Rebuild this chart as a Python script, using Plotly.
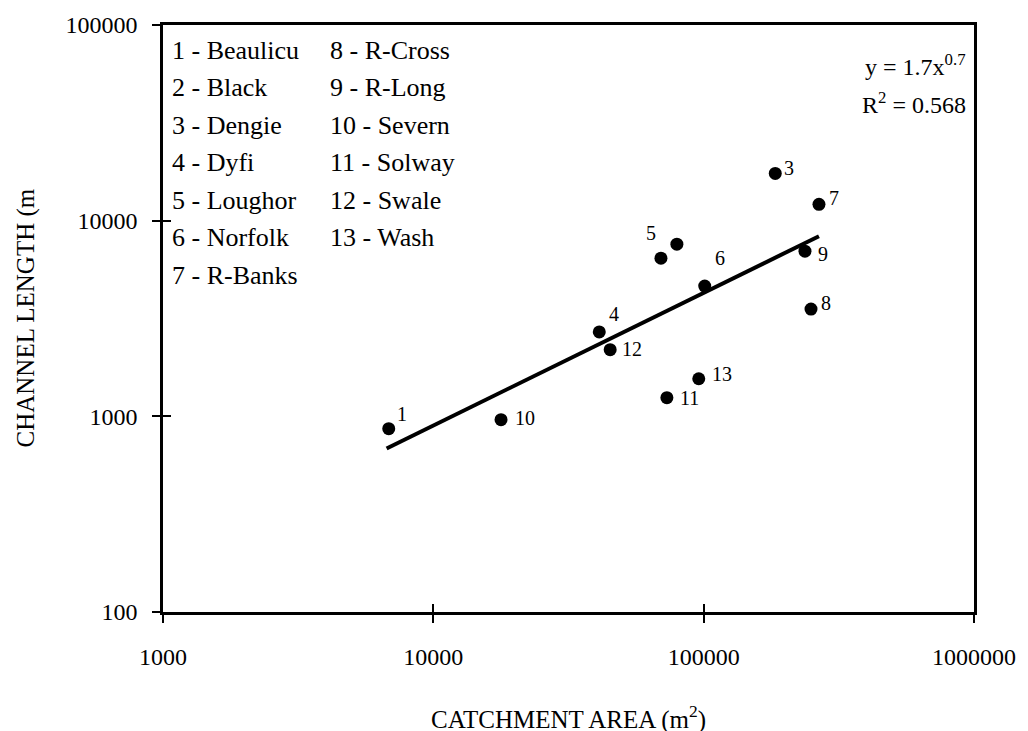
import math
import plotly.graph_objects as go

# ---- data ----
site_ids = [1, 2, 3, 4, 5, 6, 7, 8, 9, 10, 11, 12, 13]
site_names = ["Beaulicu", "Black", "Dengie", "Dyfi", "Loughor", "Norfolk", "R-Banks",
              "R-Cross", "R-Long", "Severn", "Solway", "Swale", "Wash"]
catchment_area = [6840, 79600, 184000, 41100, 69500, 100900, 267000,
                  249500, 237000, 17800, 73100, 45100, 95900]
channel_length = [865, 7580, 17430, 2700, 6430, 4630, 12120,
                  3535, 6985, 962, 1245, 2190, 1556]
point_labels = ["1", "", "3", "4", "5", "6", "7", "8", "9", "10", "11", "12", "13"]

trend_x = [6716, 267000]
trend_y = [685, 8330]

x_tickvals = [1000, 10000, 100000, 1000000]
x_ticktext = ["1000", "10000", "100000", "1000000"]
y_tickvals = [100, 1000, 10000, 100000]
y_ticktext = ["100", "1000", "10000", "100000"]

equation_text = "y = 1.7x<sup>0.7</sup>"
r2_text = "R<sup>2</sup> = 0.568"

# ---- styling ----
FONT = "Liberation Serif"
label_offsets = [(13, 15), (0, 0), (14, 5), (15, 18), (-10, 25), (15, 28), (15, 6),
                 (15, 6), (18, -3), (24, 2), (23, 0), (22, 1), (23, 5)]

fig = go.Figure()

fig.add_trace(go.Scatter(x=trend_x, y=trend_y, mode="lines",
                         line=dict(color="black", width=4), showlegend=False,
                         hoverinfo="skip"))
fig.add_trace(go.Scatter(x=catchment_area, y=channel_length, mode="markers",
                         marker=dict(color="black", size=13), showlegend=False))
# invisible trace on overlay axes to draw the inward half of the ticks
fig.add_trace(go.Scatter(x=[catchment_area[0]], y=[channel_length[0]], xaxis="x2", yaxis="y2",
                         mode="markers", marker=dict(opacity=0), showlegend=False,
                         hoverinfo="skip"))

annotations = []
for xv, yv, lab, (dx, dy) in zip(catchment_area, channel_length, point_labels, label_offsets):
    if not lab:
        continue
    annotations.append(dict(x=math.log10(xv), y=math.log10(yv), xref="x", yref="y",
                            text=lab, showarrow=False, xshift=dx, yshift=dy,
                            font=dict(family=FONT, size=20, color="black")))

# legend-like list of site names (two columns)
row_gap = 37.5
for i, (sid, name) in enumerate(zip(site_ids, site_names)):
    col = 0 if i < 7 else 1
    row = i if i < 7 else i - 7
    annotations.append(dict(x=0, y=1, xref="paper", yref="paper",
                            xanchor="left", yanchor="middle",
                            xshift=7 + col * 158, yshift=-(25 + row * row_gap),
                            text=f"{sid} - {name}", showarrow=False,
                            font=dict(family=FONT, size=26, color="black")))

annotations.append(dict(x=1, y=1, xref="paper", yref="paper", xanchor="right", yanchor="middle",
                        xshift=-6, yshift=-40, text=equation_text, showarrow=False,
                        font=dict(family=FONT, size=24, color="black")))
annotations.append(dict(x=1, y=1, xref="paper", yref="paper", xanchor="right", yanchor="middle",
                        xshift=-6, yshift=-78, text=r2_text, showarrow=False,
                        font=dict(family=FONT, size=24, color="black")))

# axis titles
annotations.append(dict(x=0.5, y=0, xref="paper", yref="paper", xanchor="center", yanchor="middle",
                        yshift=-105, text="CATCHMENT AREA (m<sup>2</sup>)", showarrow=False,
                        font=dict(family=FONT, size=25, color="black")))
annotations.append(dict(x=0, y=0.5, xref="paper", yref="paper", xanchor="center", yanchor="middle",
                        xshift=-138, text="CHANNEL LENGTH (m", textangle=-90, showarrow=False,
                        font=dict(family=FONT, size=25, color="black")))

axis_common = dict(type="log", showgrid=False, zeroline=False, showline=True,
                   linecolor="black", linewidth=2.5, mirror=True,
                   tickcolor="black", tickwidth=1.5, ticklen=8, ticks="outside",
                   tickfont=dict(family=FONT, size=24, color="black"))

fig.update_layout(
    width=1028, height=731,
    margin=dict(l=163, r=49, t=23, b=119),
    paper_bgcolor="white", plot_bgcolor="white",
    xaxis=dict(range=[3, 6], tickvals=x_tickvals, ticktext=x_ticktext,
               ticklabelstandoff=13, **axis_common),
    yaxis=dict(range=[2, 5], tickvals=y_tickvals, ticktext=y_ticktext,
               ticklabelstandoff=10, **axis_common),
    xaxis2=dict(type="log", range=[3, 6], overlaying="x", side="bottom", anchor="y2",
                showgrid=False, zeroline=False, showline=False, tickvals=x_tickvals,
                showticklabels=False, ticks="inside", ticklen=8, tickwidth=1.5,
                tickcolor="black"),
    yaxis2=dict(type="log", range=[2, 5], overlaying="y", side="left", anchor="x2",
                showgrid=False, zeroline=False, showline=False, tickvals=y_tickvals,
                showticklabels=False, ticks="inside", ticklen=8, tickwidth=1.5,
                tickcolor="black"),
    annotations=annotations,
    showlegend=False,
)

fig.write_html("out.html", config={"displayModeBar": False},
               post_script="document.body.style.margin='0';")
